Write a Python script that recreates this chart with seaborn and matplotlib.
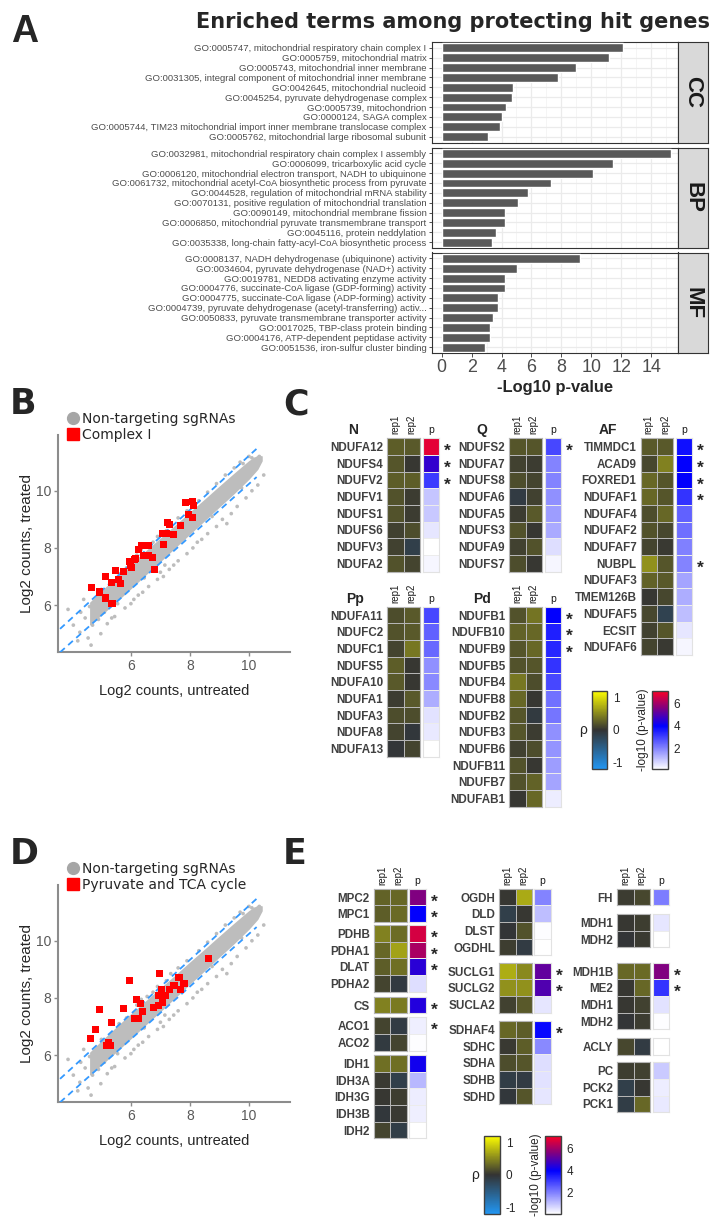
import pandas as pd
import matplotlib
matplotlib.use("Agg")
import matplotlib.pyplot as plt
import seaborn as sns
from matplotlib import font_manager
from matplotlib.colors import LinearSegmentedColormap, Normalize
from matplotlib.cm import ScalarMappable
from matplotlib.ticker import MultipleLocator
from matplotlib.lines import Line2D

# ==============================
# Settings
# ==============================
sns.set_style("white")
plt.rcParams["font.family"] = ["DejaVu Sans"]
_names = {f.name for f in font_manager.fontManager.ttflist}
NARROW = "Liberation Sans Narrow" if "Liberation Sans Narrow" in _names else "Liberation Sans"
NS = 1.0 if NARROW == "Liberation Sans Narrow" else 0.99
ARIAL = "Liberation Sans"

# ==============================
# Data - panel A
# ==============================
cc_terms = ["GO:0005747, mitochondrial respiratory chain complex I",
            "GO:0005759, mitochondrial matrix",
            "GO:0005743, mitochondrial inner membrane",
            "GO:0031305, integral component of mitochondrial inner membrane",
            "GO:0042645, mitochondrial nucleoid",
            "GO:0045254, pyruvate dehydrogenase complex",
            "GO:0005739, mitochondrion",
            "GO:0000124, SAGA complex",
            "GO:0005744, TIM23 mitochondrial import inner membrane translocase complex",
            "GO:0005762, mitochondrial large ribosomal subunit"]
cc_vals = [12.13, 11.18, 8.97, 7.77, 4.76, 4.67, 4.30, 4.05, 3.87, 3.07]

bp_terms = ["GO:0032981, mitochondrial respiratory chain complex I assembly",
            "GO:0006099, tricarboxylic acid cycle",
            "GO:0006120, mitochondrial electron transport, NADH to ubiquinone",
            "GO:0061732, mitochondrial acetyl-CoA biosynthetic process from pyruvate",
            "GO:0044528, regulation of mitochondrial mRNA stability",
            "GO:0070131, positive regulation of mitochondrial translation",
            "GO:0090149, mitochondrial membrane fission",
            "GO:0006850, mitochondrial pyruvate transmembrane transport",
            "GO:0045116, protein neddylation",
            "GO:0035338, long-chain fatty-acyl-CoA biosynthetic process"]
bp_vals = [15.32, 11.45, 10.10, 7.31, 5.74, 5.10, 4.24, 4.24, 3.62, 3.38]

mf_terms = ["GO:0008137, NADH dehydrogenase (ubiquinone) activity",
            "GO:0034604, pyruvate dehydrogenase (NAD+) activity",
            "GO:0019781, NEDD8 activating enzyme activity",
            "GO:0004776, succinate-CoA ligase (GDP-forming) activity",
            "GO:0004775, succinate-CoA ligase (ADP-forming) activity",
            "GO:0004739, pyruvate dehydrogenase (acetyl-transferring) activ...",
            "GO:0050833, pyruvate transmembrane transporter activity",
            "GO:0017025, TBP-class protein binding",
            "GO:0004176, ATP-dependent peptidase activity",
            "GO:0051536, iron-sulfur cluster binding"]
mf_vals = [9.27, 5.04, 4.24, 4.24, 3.75, 3.75, 3.44, 3.22, 3.22, 2.92]

# ==============================
# Data - panels B / D (log2 counts)
# ==============================
band_x = [4.6, 5.0, 5.5, 6.0, 6.5, 7.0, 7.5, 8.0, 8.5, 9.0, 9.5, 10.0, 10.3, 10.45]
band_hi = [6.10, 6.50, 6.98, 7.45, 7.90, 8.35, 8.80, 9.26, 9.71, 10.17, 10.62, 11.06, 11.25, 11.22]
band_lo = [5.30, 5.65, 6.10, 6.57, 7.05, 7.52, 8.00, 8.48, 8.95, 9.43, 9.90, 10.40, 10.75, 11.05]

gray_x = [3.87, 4.05, 4.27, 4.30, 4.45, 4.55, 4.60, 4.70, 4.75, 4.80, 4.90, 4.98, 5.05, 5.10,
          5.20, 5.25, 5.30, 5.45, 5.40, 5.55, 5.60, 5.70, 5.80, 5.85, 6.00, 4.20, 4.40, 4.65,
          6.20, 6.35, 6.55, 6.75, 6.90, 7.20, 7.35, 7.60, 7.90, 8.30, 8.60, 8.90, 9.20, 9.50,
          9.70, 9.80, 10.00, 10.10, 10.20, 10.35,
          6.10, 6.25, 6.40, 6.60, 6.90, 7.00, 7.10, 7.30, 7.45, 7.60, 7.90, 8.10, 8.40, 8.60,
          8.90, 9.10, 9.40, 9.60, 9.90, 10.10, 10.30, 10.50,
          5.00, 5.35, 5.75, 6.45, 7.15, 7.75, 8.25, 8.75, 9.25, 9.75]
gray_y = [5.85, 5.30, 5.05, 5.75, 5.55, 4.85, 5.95, 5.30, 5.70, 6.15, 5.50, 5.00, 6.10, 5.75,
          5.35, 6.20, 6.45, 5.60, 6.70, 6.05, 7.10, 6.80, 5.90, 7.30, 6.05, 4.75, 6.20, 4.60,
          7.75, 7.95, 8.05, 8.20, 8.40, 8.60, 8.85, 9.05, 9.30, 9.65, 9.95, 10.25, 10.55, 10.80,
          11.00, 10.95, 11.20, 11.15, 11.10, 11.20,
          6.20, 6.35, 6.45, 6.65, 6.90, 7.15, 7.00, 7.25, 7.40, 7.55, 7.80, 8.00, 8.30, 8.50,
          8.75, 9.00, 9.20, 9.45, 9.75, 10.00, 10.20, 10.55,
          6.55, 5.55, 7.00, 6.95, 7.40, 8.60, 8.20, 9.10, 8.85, 10.10]

dash_x = [3.6, 10.26]
dash_hi = [5.17, 11.47]
dash_lo = [4.35, 10.48]

cx1_x = [7.84, 8.09, 8.11, 7.96, 8.09, 7.24, 7.30, 7.67, 7.43, 7.06, 7.19, 7.10, 6.36, 6.50,
         6.61, 6.27, 6.42, 6.60, 6.72, 6.17, 6.11, 5.94, 6.00, 6.02, 6.81, 5.49, 5.75, 5.15,
         5.57, 5.65, 5.35, 4.95, 4.68, 5.15, 5.36]
cx1_y = [9.60, 9.62, 9.47, 9.18, 9.06, 8.89, 8.83, 8.77, 8.47, 8.49, 8.52, 8.13, 8.07, 8.07,
         8.07, 7.93, 7.75, 7.75, 7.65, 7.64, 7.58, 7.52, 7.40, 7.32, 7.25, 7.20, 7.19, 6.99,
         6.88, 6.76, 6.78, 6.46, 6.63, 6.25, 6.07]

tca_x = [8.62, 6.96, 5.94, 7.63, 7.80, 7.46, 7.32, 7.69, 7.04, 6.93, 7.18, 7.06, 6.92, 6.76,
         6.19, 6.34, 6.38, 5.74, 4.95, 5.35, 4.79, 4.62, 5.24, 5.18, 5.30, 6.14, 6.24]
tca_y = [9.38, 8.86, 8.60, 8.70, 8.52, 8.45, 8.28, 8.31, 8.28, 8.09, 8.08, 7.84, 7.73, 7.66,
         7.95, 7.79, 7.52, 7.62, 7.58, 7.14, 6.89, 6.58, 6.45, 6.33, 6.35, 7.28, 7.28]

# ==============================
# Data - panel C (complex I modules)
# ==============================
n_genes = ["NDUFA12", "NDUFS4", "NDUFV2", "NDUFV1", "NDUFS1", "NDUFS6", "NDUFV3", "NDUFA2"]
n_rep1 = [0.25, 0.20, 0.25, 0.18, 0.18, 0.08, 0.08, 0.18]
n_rep2 = [0.22, 0.02, 0.25, 0.05, 0.05, 0.15, -0.15, 0.10]
n_p = [6.8, 4.6, 3.1, 1.0, 0.95, 0.5, 0.1, 0.25]
n_star = [1, 1, 1, 0, 0, 0, 0, 0]

q_genes = ["NDUFS2", "NDUFA7", "NDUFS8", "NDUFA6", "NDUFA5", "NDUFS3", "NDUFA9", "NDUFS7"]
q_rep1 = [0.20, 0.08, 0.15, -0.10, 0.05, 0.18, 0.08, 0.15]
q_rep2 = [0.20, 0.05, 0.10, 0.08, 0.22, 0.02, 0.18, 0.02]
q_p = [2.9, 2.0, 2.0, 1.8, 1.6, 1.4, 0.6, 0.25]
q_star = [1, 0, 0, 0, 0, 0, 0, 0]

af_genes = ["TIMMDC1", "ACAD9", "FOXRED1", "NDUFAF1", "NDUFAF4", "NDUFAF2", "NDUFAF7",
            "NUBPL", "NDUFAF3", "TMEM126B", "NDUFAF5", "ECSIT", "NDUFAF6"]
af_rep1 = [0.22, 0.12, 0.30, 0.30, 0.15, 0.18, 0.10, 0.55, 0.28, 0.02, 0.12, 0.08, 0.10]
af_rep2 = [0.22, 0.45, 0.20, 0.20, 0.30, 0.12, 0.03, 0.20, 0.22, 0.12, -0.18, 0.20, 0.03]
af_p = [3.75, 4.0, 4.0, 3.2, 2.5, 2.3, 2.05, 2.0, 1.5, 1.35, 1.1, 0.5, 0.25]
af_star = [1, 1, 1, 1, 0, 0, 0, 1, 0, 0, 0, 0, 0]

pp_genes = ["NDUFA11", "NDUFC2", "NDUFC1", "NDUFS5", "NDUFA10", "NDUFA1", "NDUFA3", "NDUFA8", "NDUFA13"]
pp_rep1 = [0.15, 0.18, 0.10, 0.25, 0.22, 0.05, 0.15, 0.10, -0.03]
pp_rep2 = [0.22, 0.22, 0.40, 0.02, 0.02, 0.22, 0.15, -0.05, 0.10]
pp_p = [2.9, 2.5, 2.4, 1.8, 1.9, 1.35, 0.55, 0.45, 0.1]
pp_star = [0, 0, 0, 0, 0, 0, 0, 0, 0]

pd_genes = ["NDUFB1", "NDUFB10", "NDUFB9", "NDUFB5", "NDUFB4", "NDUFB8", "NDUFB2", "NDUFB3",
            "NDUFB6", "NDUFB11", "NDUFB7", "NDUFAB1"]
pd_rep1 = [0.18, 0.28, 0.20, 0.18, 0.40, 0.30, 0.20, 0.20, 0.08, 0.18, 0.18, 0.02]
pd_rep2 = [0.38, 0.30, 0.30, 0.20, 0.15, 0.02, -0.08, 0.05, 0.15, 0.02, 0.28, 0.30]
pd_p = [4.0, 3.5, 3.4, 3.2, 2.9, 2.25, 2.2, 1.8, 1.75, 1.6, 1.5, 0.4]
pd_star = [1, 1, 1, 0, 0, 0, 0, 0, 0, 0, 0, 0]

# ==============================
# Data - panel E (pyruvate / TCA)
# ==============================
e1_genes = ["MPC2", "MPC1", "PDHB", "PDHA1", "DLAT", "PDHA2", "CS", "ACO1", "ACO2",
            "IDH1", "IDH3A", "IDH3G", "IDH3B", "IDH2"]
e1_rep1 = [0.28, 0.25, 0.45, 0.30, 0.25, 0.10, 0.45, 0.10, -0.08, 0.35, 0.03, 0.02, -0.05, 0.10]
e1_rep2 = [0.30, 0.32, 0.33, 0.65, 0.35, -0.08, 0.42, -0.10, 0.10, 0.35, -0.15, 0.06, 0.03, -0.12]
e1_p = [5.6, 4.0, 6.6, 6.1, 4.5, 0.6, 4.4, 0.35, 0.15, 4.2, 1.2, 0.4, 0.35, 0.1]
e1_star = [1, 1, 1, 1, 1, 0, 1, 1, 0, 0, 0, 0, 0, 0]

e2_genes = ["OGDH", "DLD", "DLST", "OGDHL", "SUCLG1", "SUCLG2", "SUCLA2",
            "SDHAF4", "SDHC", "SDHA", "SDHB", "SDHD"]
e2_rep1 = [0.02, -0.15, -0.02, 0.06, 0.72, 0.55, 0.08, 0.30, 0.03, 0.15, -0.12, -0.05]
e2_rep2 = [0.70, 0.02, 0.18, -0.10, 0.50, 0.55, 0.22, 0.25, 0.25, 0.20, -0.10, 0.20]
e2_p = [2.0, 1.1, 0.15, 0.1, 5.2, 5.0, 0.5, 3.9, 1.9, 0.6, 0.55, 0.5]
e2_star = [0, 0, 0, 0, 1, 1, 0, 1, 0, 0, 0, 0]

e3_genes = ["FH", "MDH1", "MDH2", "MDH1B", "ME2", "MDH1", "MDH2", "ACLY", "PC", "PCK2", "PCK1"]
e3_rep1 = [0.05, 0.02, -0.02, 0.30, 0.02, 0.02, -0.02, 0.12, 0.06, -0.15, -0.12]
e3_rep2 = [0.12, 0.06, 0.04, 0.32, 0.30, 0.08, 0.05, -0.10, 0.08, 0.02, 0.30]
e3_p = [2.1, 0.5, 0.1, 5.6, 3.2, 0.55, 0.15, 0.1, 0.9, 0.4, 0.45]
e3_star = [0, 0, 0, 1, 1, 0, 0, 0, 0, 0, 0]

# ==============================
# Figure helpers
# ==============================
W, H = 712, 1225
fig = plt.figure(figsize=(W / 100, H / 100), dpi=100)


def px_axes(x0, y0, x1, y1):
    return fig.add_axes([x0 / W, 1 - y1 / H, (x1 - x0) / W, (y1 - y0) / H])


def ftext(x, y, s, **kw):
    return fig.text(x / W, 1 - y / H, s, **kw)


rho_cmap = LinearSegmentedColormap.from_list("rho", [(0, "#2196f3"), (0.5, "#333333"), (1, "#ffff00")])
p_cmap = LinearSegmentedColormap.from_list(
    "pv", [(0, "#ffffff"), (0.55, "#0000ff"), (0.78, "#800080"), (1, "#ff0022")])
RHO_LIM = (-1.2, 1.2)
P_LIM = (0.1, 7.15)

# ==============================
# Panel A - GO enrichment bars
# ==============================
ftext(11, 42, "A", fontsize=27, fontweight="bold", family=ARIAL, va="baseline")
ftext(453, 22, "Enriched terms among protecting hit genes", fontsize=15,
      fontweight="bold", ha="center", va="center")

facets = [("CC", cc_terms, cc_vals, 42), ("BP", bp_terms, bp_vals, 147.5), ("MF", mf_terms, mf_vals, 252.5)]
for k, (name, terms, vals, top) in enumerate(facets):
    ax = px_axes(432, top, 678, top + 100.5)
    sns.barplot(x=vals, y=terms, ax=ax, color="#595959", saturation=1, width=0.9, orient="h", zorder=3)
    ax.set_xlim(-0.65, 15.8)
    ax.set_ylim(9.6, -0.6)
    ax.xaxis.set_major_locator(MultipleLocator(2))
    ax.xaxis.set_minor_locator(MultipleLocator(1))
    ax.grid(which="major", color="#ebebeb", lw=0.9, zorder=0)
    ax.grid(which="minor", axis="x", color="#f2f2f2", lw=0.5, zorder=0)
    ax.set_axisbelow(True)
    for s in ax.spines.values():
        s.set_visible(True)
        s.set_color("#333333")
        s.set_linewidth(0.8)
    ax.set_ylabel("")
    ax.set_xlabel("")
    ax.tick_params(axis="y", length=2.5, width=0.6, color="#333333", pad=1.5,
                   labelsize=6.9 * NS, labelcolor="#4d4d4d", left=True)
    for t in ax.get_yticklabels():
        t.set_family(NARROW)
    if k < 2:
        ax.tick_params(axis="x", which="both", bottom=False, labelbottom=False)
    else:
        ax.tick_params(axis="x", which="major", length=3, width=0.6, color="#333333", bottom=True,
                       labelsize=13 * NS, labelcolor="#4d4d4d", pad=1)
        ax.tick_params(axis="x", which="minor", bottom=False)
        for t in ax.get_xticklabels():
            t.set_family(NARROW)
        ax.set_xlabel("-Log10 p-value", fontsize=12 * NS, fontweight="bold", family=NARROW, labelpad=3)
    strip = px_axes(678, top, 708, top + 100.5)
    strip.set_facecolor("#d9d9d9")
    strip.set_xticks([])
    strip.set_yticks([])
    for s in strip.spines.values():
        s.set_visible(True)
        s.set_color("#333333")
        s.set_linewidth(0.8)
    strip.text(0.5, 0.5, name, rotation=-90, ha="center", va="center", fontsize=16,
               fontweight="bold", family=ARIAL, color="#1a1a1a", transform=strip.transAxes)

# ==============================
# Panels B / D - scatter
# ==============================
GRAY = "#bdbdbd"


def scatter_panel(top, red_x, red_y, red_label, letter):
    ftext(10, top - 21, letter, fontsize=25, fontweight="bold", va="baseline")
    ax = px_axes(58, top, 290, top + 217)
    ax.fill_between(band_x, band_lo, band_hi, color=GRAY, lw=0, zorder=1)
    sns.scatterplot(x=gray_x, y=gray_y, ax=ax, color=GRAY, s=7, edgecolor="none", linewidth=0, zorder=2)
    ax.plot(dash_x, dash_hi, color="#3399ff", lw=1.3, ls=(0, (3.5, 2.5)), zorder=3)
    ax.plot(dash_x, dash_lo, color="#3399ff", lw=1.3, ls=(0, (3.5, 2.5)), zorder=3)
    sns.scatterplot(x=red_x, y=red_y, ax=ax, color="red", marker="s", s=26, edgecolor="none",
                    linewidth=0, zorder=4)
    ax.set_xlim(3.53, 11.39)
    ax.set_ylim(4.36, 11.95)
    ax.set_xticks([6, 8, 10])
    ax.set_yticks([6, 8, 10])
    for side in ["top", "right"]:
        ax.spines[side].set_visible(False)
    for side in ["left", "bottom"]:
        ax.spines[side].set_color("#8c8c8c")
        ax.spines[side].set_linewidth(1.5)
    ax.tick_params(length=3, width=1, color="#8c8c8c", labelsize=10, labelcolor="#595959", pad=2,
                   left=True, bottom=True)
    for t in ax.get_xticklabels() + ax.get_yticklabels():
        t.set_family(ARIAL)
    ax.set_xlabel("Log2 counts, untreated", fontsize=10.5, family=ARIAL, labelpad=8)
    ax.set_ylabel("Log2 counts, treated", fontsize=11, family=ARIAL, labelpad=1)
    handles = [Line2D([], [], marker="o", ls="", color="#a6a6a6", markersize=8.5),
               Line2D([], [], marker="s", ls="", color="red", markersize=8)]
    fig.legend(handles, ["Non-targeting sgRNAs", red_label], loc="upper left",
               bbox_to_anchor=(66 / W, 1 - (top - 23) / H), frameon=False, fontsize=10,
               handletextpad=0.15, labelspacing=0.12, borderaxespad=0, borderpad=0,
               handlelength=1.0)


scatter_panel(435, cx1_x, cx1_y, "Complex I", "B")
scatter_panel(885, tca_x, tca_y, "Pyruvate and TCA cycle", "D")

# ==============================
# Panels C / E - heatmaps
# ==============================
ROW = 16.67
CELL = 16.3


def draw_heat(genes, r1, r2, pv, st, x_rep, x_p, top, header=False):
    n = len(genes)
    bottom = top + n * ROW
    ax = px_axes(x_rep, top, x_rep + 2 * CELL, bottom)
    mat = pd.DataFrame({"rep1": r1, "rep2": r2})
    sns.heatmap(mat, ax=ax, cmap=rho_cmap, vmin=RHO_LIM[0], vmax=RHO_LIM[1], cbar=False,
                linewidths=0.7, linecolor="#b5b5b5", xticklabels=False, yticklabels=False)
    ax.set_yticks([i + 0.5 for i in range(n)])
    ax.set_yticklabels(genes, rotation=0, fontsize=8.4, fontweight="bold", color="#404040", family=ARIAL)
    ax.tick_params(length=0, pad=3)
    axp = px_axes(x_p, top, x_p + CELL, bottom)
    sns.heatmap(pd.DataFrame({"p": pv}), ax=axp, cmap=p_cmap, vmin=P_LIM[0], vmax=P_LIM[1],
                cbar=False, linewidths=0.7, linecolor="#ececec", xticklabels=False, yticklabels=False)
    for a, c in ((ax, "#b5b5b5"), (axp, "#e2e2e2")):
        for s in a.spines.values():
            s.set_visible(True)
            s.set_color(c)
            s.set_linewidth(0.8)
    for i, s in enumerate(st):
        if s:
            axp.text(1.3, i + 0.8, "*", fontsize=12.5, fontweight="bold", va="center", ha="left",
                     family=ARIAL, clip_on=False)
    if header:
        for j, lab in enumerate(["rep1", "rep2"]):
            ftext(x_rep + CELL * (j + 0.5), top - 4, lab, rotation=90, ha="center", va="bottom",
                  fontsize=7, family=ARIAL, color="#1a1a1a")
        ftext(x_p + CELL / 2, top - 3, "p", ha="center", va="bottom", fontsize=7.5, family=ARIAL,
              color="#1a1a1a")


ftext(283, 414, "C", fontsize=25, fontweight="bold", va="baseline")
c_groups = [("N", n_genes, n_rep1, n_rep2, n_p, n_star, 387.3, 422.7, 438.3, 353),
            ("Q", q_genes, q_rep1, q_rep2, q_p, q_star, 509.3, 545.0, 438.3, 481.7),
            ("AF", af_genes, af_rep1, af_rep2, af_p, af_star, 640.7, 676.0, 438.3, 608),
            ("Pp", pp_genes, pp_rep1, pp_rep2, pp_p, pp_star, 387.3, 422.7, 606.7, 355),
            ("Pd", pd_genes, pd_rep1, pd_rep2, pd_p, pd_star, 509.3, 545.0, 606.7, 481.7)]
for name, g, r1, r2, pv, st, xr, xp, top, tx in c_groups:
    draw_heat(g, r1, r2, pv, st, xr, xp, top, header=True)
    ftext(tx, top - 8, name, ha="center", va="center", fontsize=10, fontweight="bold", family=ARIAL)

ftext(283, 864, "E", fontsize=25, fontweight="bold", va="baseline")
e_cols = [(e1_genes, e1_rep1, e1_rep2, e1_p, e1_star, 374.0, 409.3, [2, 4, 1, 2, 5],
           [888.7, 925.0, 996.7, 1017.3, 1055.0]),
          (e2_genes, e2_rep1, e2_rep2, e2_p, e2_star, 499.3, 534.3, [4, 3, 5],
           [888.7, 962.7, 1021.0]),
          (e3_genes, e3_rep1, e3_rep2, e3_p, e3_star, 617.3, 652.7, [1, 2, 4, 1, 3],
           [888.7, 914.0, 962.7, 1038.3, 1062.3])]
for g, r1, r2, pv, st, xr, xp, sizes, tops in e_cols:
    i0 = 0
    for b, (n, top) in enumerate(zip(sizes, tops)):
        sl = slice(i0, i0 + n)
        draw_heat(g[sl], r1[sl], r2[sl], pv[sl], st[sl], xr, xp, top, header=(b == 0))
        i0 += n


def colorbars(rho_box, p_box):
    cax = px_axes(*rho_box)
    cb = fig.colorbar(ScalarMappable(norm=Normalize(*RHO_LIM), cmap=rho_cmap), cax=cax, ticks=[-1, 0, 1])
    cb.ax.set_yticklabels(["-1", "0", "1"])
    cax2 = px_axes(*p_box)
    cb2 = fig.colorbar(ScalarMappable(norm=Normalize(*P_LIM), cmap=p_cmap), cax=cax2, ticks=[2, 4, 6])
    for c in (cb, cb2):
        c.outline.set_edgecolor("#404040")
        c.outline.set_linewidth(1.0)
        c.ax.tick_params(left=True, right=True, labelleft=False, labelright=True, direction="in",
                         length=3, width=0.8, color="white", labelsize=8.5, pad=4)
        for t in c.ax.get_yticklabels():
            t.set_family(ARIAL)
    ymid = (rho_box[1] + rho_box[3]) / 2
    ftext(rho_box[0] - 9, ymid, "\u03c1", ha="center", va="center", fontsize=10, family=ARIAL)
    ftext(p_box[0] - 9, ymid, "-log10 (p-value)", rotation=90, ha="center", va="center",
          fontsize=8.5, family=ARIAL)


colorbars((591.7, 690.7, 607.3, 769.3), (652.3, 690.7, 668.3, 769.3))
colorbars((484.0, 1135.7, 500.0, 1214.0), (545.0, 1135.7, 560.7, 1214.0))

fig.savefig("out.png", dpi=100)
plt.close(fig)
